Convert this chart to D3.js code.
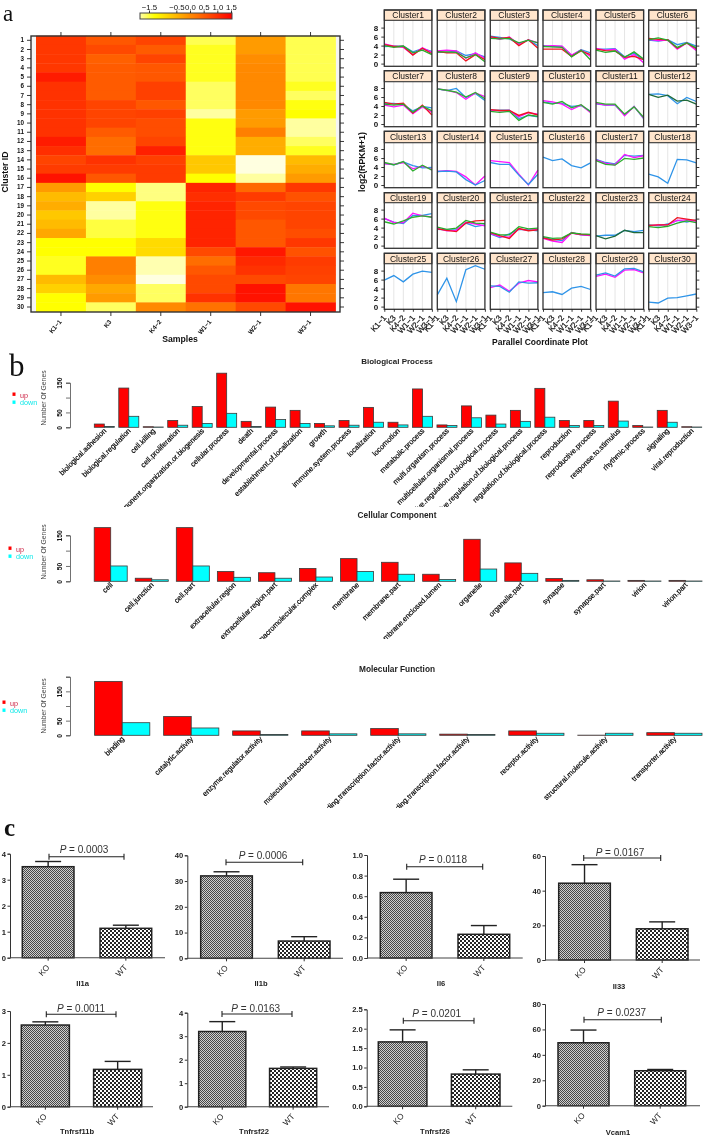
<!DOCTYPE html>
<html><head><meta charset="utf-8">
<script src="https://cdn.jsdelivr.net/npm/d3@7"></script>
<style>
html,body{margin:0;padding:0;background:#fff;}
svg{display:block;filter:blur(0.35px);}
text{font-family:"Liberation Sans",Arial,sans-serif;fill:#111;}
</style></head><body><svg id="c" width="703" height="1136"></svg>
<script>
// ---------- DATA ----------
const samples = ["K1−1","K3","K4−2","W1−1","W2−1","W3−1"];
const clusterIds = d3.range(1,31);
const heatValues = [
[0.9,0.55,0.75,-1.55,-0.2,-1.55],[0.9,0.7,0.5,-1.4,-0.2,-1.55],[0.9,0.45,0.75,-1.4,-0.05,-1.55],
[0.9,0.5,0.55,-1.4,0,-1.55],[1.2,0.5,0.55,-1.4,0,-1.55],[0.95,0.5,0.8,-1.6,0,-1.4],
[0.95,0.5,0.8,-1.6,0,-1.6],[0.95,0.75,0.55,-1.6,0,-1.35],[0.95,0.75,0.8,-1.8,-0.2,-1.3],
[0.95,0.75,0.65,-1.35,-0.2,-1.8],[0.95,0.5,0.65,-1.35,0.1,-1.8],[1.2,0.3,0.75,-1.35,-0.4,-1.6],
[1.0,0.3,1.15,-1.35,-0.4,-1.4],[0.75,0.95,0.8,-0.7,-2,-0.55],[0.85,0.85,0.85,-0.7,-2,-0.4],
[1.3,0.55,0.85,-1.3,-1.8,-0.2],[-0.2,-1.3,-1.7,1.1,0.35,0.9],[-0.55,-0.8,-1.7,1.0,0.85,0.6],
[-0.4,-1.8,-1.35,1.1,0.7,0.75],[-0.7,-1.8,-1.35,1.1,0.7,0.75],[-0.55,-1.5,-1.35,1.1,0.55,0.75],
[-0.35,-1.5,-1.35,1.1,0.55,0.65],[-1.3,-1.3,-0.9,1.1,0.55,0.9],[-1.3,-1.3,-0.9,0.7,1.25,0.6],
[-1.4,0.1,-1.85,0.3,1.05,0.85],[-1.4,0.1,-1.85,0.55,0.95,0.8],[-0.55,-0.05,-2,0.7,0.7,0.75],
[-0.8,-0.35,-1.6,0.7,1.3,0.2],[-1.3,-0.2,-1.6,0.95,1.3,0.2],[-1.3,-1.6,0,0.25,0.7,1.3]];
const colorKeyTicks = [-1.5,-0.5,0,0.5,1,1.5];

const clusterLines = [
[[3.8,3.9,3.9,2.6,3.3,2.7],[4.4,3.9,3.6,2.0,3.5,2.5],[4.2,3.8,3.8,1.9,3.4,2.2],[4.0,3.6,3.9,2.4,3.0,2.0]],
[[2.5,2.5,2.8,1.8,2.2,1.5],[2.8,3.0,2.8,1.2,2.4,1.2],[2.7,2.4,2.4,0.6,2.0,0.9],[2.6,2.6,2.5,1.3,2.0,0.4]],
[[6.1,5.8,5.5,4.4,5.2,4.0],[5.9,5.4,5.9,4.3,5.3,4.6],[6.0,5.6,5.8,4.0,5.3,3.4],[5.6,5.5,5.6,4.6,5.2,4.6]],
[[4.0,3.8,3.8,1.8,3.1,2.4],[3.9,4.0,3.9,1.9,3.0,1.6],[3.2,3.2,3.2,1.6,2.8,2.0],[3.8,3.7,3.6,1.5,3.0,0.8]],
[[3.2,3.2,3.3,1.5,2.3,0.8],[3.4,3.0,3.2,1.0,2.0,0.2],[3.2,2.9,2.8,1.4,1.6,0.9],[3.0,2.5,2.8,1.4,2.6,1.0]],
[[5.2,5.0,5.3,4.2,4.7,3.9],[5.4,5.1,5.2,3.2,4.6,2.9],[5.6,5.4,5.3,3.4,4.6,3.3],[5.3,5.7,5.2,3.6,4.6,3.5]],
[[4.6,4.6,4.3,2.9,3.9,3.6],[4.2,3.8,4.2,2.3,3.8,2.6],[4.8,4.4,4.6,2.4,4.2,2.0],[4.4,4.2,4.4,2.6,4.0,2.9]],
[[7.8,7.4,7.9,5.9,6.8,5.2],[7.8,7.5,7.0,5.5,6.9,6.1],[7.8,7.5,7.1,6.0,7.0,5.6]],
[[3.0,3.1,3.1,1.2,1.9,1.6],[3.1,2.9,3.0,1.6,2.5,2.2],[3.2,3.0,3.0,1.9,2.6,2.0],[2.8,2.6,2.8,0.8,2.0,1.7]],
[[4.9,4.6,4.6,3.9,4.1,2.8],[5.2,4.9,4.4,3.2,4.2,2.5],[4.8,4.4,5.0,3.6,4.3,2.7]],
[[4.5,4.2,4.2,2.0,3.9,1.2],[4.6,4.2,4.3,1.8,3.9,1.3],[4.8,4.4,4.4,2.2,3.8,1.5]],
[[6.6,6.7,6.3,4.5,5.9,5.0],[6.6,5.9,6.4,5.1,5.3,4.4]],
[[4.8,4.5,5.1,4.3,3.8,3.9],[4.7,4.6,5.0,3.6,4.2,3.5],[5.0,4.5,5.2,3.1,4.4,3.3]],
[[3.0,3.2,3.0,1.8,0,2.0],[3.0,3.1,2.9,1.2,0,1.0]],
[[5.4,5.2,5.0,2.4,0,3.3],[5.0,4.6,4.6,2.2,0.1,2.4]],
[[6.2,5.4,5.8,4.3,3.8,4.9]],
[[5.7,5.0,4.7,6.6,6.4,6.6],[5.6,4.8,4.5,6.8,6.1,6.5],[5.4,4.6,4.4,5.9,5.7,6.0]],
[[2.4,1.8,0.4,5.7,5.6,4.9]],
[[6.0,5.2,4.9,6.7,6.7,7.1],[6.1,5.1,5.1,7.2,6.6,6.4],[5.3,4.8,5.5,6.3,6.6,6.3]],
[[3.6,3.5,3.5,5.0,4.2,4.6],[3.9,3.3,3.4,5.2,4.8,4.4],[3.7,3.4,3.1,5.0,5.5,5.6],[4.1,3.6,3.9,5.6,5.0,4.9]],
[[2.6,1.8,2.6,3.6,3.5,3.3],[2.7,2.0,1.9,3.7,3.4,3.6],[2.9,2.2,1.6,3.8,3.3,3.5],[3.0,2.4,2.4,4.2,3.7,3.9]],
[[1.8,1.4,1.1,2.9,2.4,2.2],[1.6,1.0,0.7,2.8,2.4,2.3],[1.7,1.2,1.5,2.8,2.5,2.4],[2.0,1.6,1.7,2.8,2.6,2.5]],
[[2.1,2.3,2.3,3.4,3.1,3.4],[2.2,1.5,2.1,3.4,2.9,2.9]],
[[4.6,4.4,4.8,5.6,5.2,5.7],[4.4,4.6,4.6,5.6,5.7,5.4],[4.5,4.6,4.6,6.2,5.9,5.6],[4.2,4.0,4.3,5.0,5.5,5.1]],
[[5.9,6.9,5.5,7.2,7.9,7.6]],
[[2.6,6.3,1.1,8.2,9.1,8.3]],
[[4.2,4.8,3.4,5.2,5.8,5.5],[4.6,4.5,3.2,5.5,5.2,5.3]],
[[3.1,3.3,2.7,4.1,4.5,3.8]],
[[6.7,7.2,6.5,8.1,8.2,7.5],[7.0,7.5,6.8,8.4,8.5,7.7]],
[[1.0,0.8,1.9,2.0,2.4,2.8]]];
const clusterYTicks = [0,2,4,6,8];

const bpCategories = ["biological.adhesion","biological.regulation","cell.killing","cell.proliferation","cellular.component.organization.or.biogenesis","cellular.process","death","developmental.process","establishment.of.localization","growth","immune.system.process","localization","locomotion","metabolic.process","multi.organism.process","multicellular.organismal.process","negative.regulation.of.biological.process","positive.regulation.of.biological.process","regulation.of.biological.process","reproduction","reproductive.process","response.to.stimulus","rhythmic.process","signaling","viral.reproduction"];
const bpUp   = [11,132,2,23,70,182,20,68,57,13,23,67,17,129,8,72,41,57,131,23,23,88,6,57,2];
const bpDown = [3,37,1,7,13,47,3,26,13,5,7,17,8,37,6,32,11,20,34,6,6,21,1,17,1];
const ccCategories = ["cell","cell.junction","cell.part","extracellular.region","extracellular.region.part","macromolecular.complex","membrane","membrane.part","membrane.enclosed.lumen","organelle","organelle.part","synapse","synapse.part","virion","virion.part"];
const ccUp   = [175,10,175,32,28,42,74,62,23,137,60,9,5,3,3];
const ccDown = [50,5,50,13,10,14,32,23,6,40,26,3,1,1,1];
const mfCategories = ["binding","catalytic.activity","enzyme.regulator.activity","molecular.transducer.activity","nucleic.acid.binding.transcription.factor.activity","protein.binding.transcription.factor.activity","receptor.activity","structural.molecule.activity","transporter.activity"];
const mfUp   = [184,64,15,15,23,4,15,0.5,9];
const mfDown = [43,25,3,5,5,3,7,7,7];

const genes    = ["Il1a","Il1b","Il6","Il33","Tnfrsf11b","Tnfrsf22","Tnfrsf26","Vcam1"];
const pValues  = ["0.0003","0.0006","0.0118","0.0167","0.0011","0.0163","0.0201","0.0237"];
const koMeans  = [3.5,32,0.635,44.3,2.56,3.2,1.66,49.5];
const koTops   = [3.7,33.6,0.765,55,2.66,3.62,1.97,59.5];
const wtMeans  = [1.13,6.7,0.23,18,1.17,1.63,0.83,27.5];
const wtTops   = [1.25,8.4,0.315,22,1.42,1.69,0.94,28.5];
const yMaxes   = [4,40,1,60,3,4,2.5,80];
const yTickSets= [[0,1,2,3,4],[0,10,20,30,40],[0,0.2,0.4,0.6,0.8,1],[0,20,40,60],[0,1,2,3],[0,1,2,3,4],[0,0.5,1,1.5,2,2.5],[0,20,40,60,80]];
const yFormats = ["d","d",".1f","d","d","d",".1f","d"];

// ---------- LAYOUT ----------
const svg = d3.select("#c");
const defs = svg.append("defs");
const FONT="Liberation Sans";

function letter(t,x,y,size,bold){svg.append("text").attr("x",x).attr("y",y).attr("font-size",size)
  .style("font-family","Liberation Serif").attr("font-weight",bold?"bold":"normal").text(t);}
letter("a",3,21,23,false); letter("b",9,376,31,false); letter("c",4,836,25,true);

// ---------- Panel a: heat map ----------
const heatColor = d3.scaleLinear().domain([-2,-1.3,1.5]).range(["#ffffe0","#ffff00","#ff0000"]).clamp(true);
const hx = d3.scaleBand().domain(samples).range([36,335.5]);
const hy = d3.scaleBand().domain(clusterIds).range([35.7,311.6]);
const hm = svg.append("g");
hm.append("rect").attr("x",31).attr("y",36).attr("width",309).attr("height",276).attr("fill","#f4f4f4");
heatValues.forEach((row,i)=>{
  hm.selectAll(null).data(row).join("rect")
   .attr("x",(d,j)=>hx(samples[j])).attr("y",hy(clusterIds[i]))
   .attr("width",hx.bandwidth()+0.4).attr("height",hy.bandwidth()+0.4)
   .attr("fill",d=>heatColor(d));
});
hm.append("rect").attr("x",31).attr("y",36).attr("width",309).attr("height",276)
  .attr("fill","none").attr("stroke","#333").attr("stroke-width",1.4);
function styleAxis(g,size,weight){
  g.select(".domain").remove();
  g.selectAll("line").attr("stroke","#222").attr("stroke-width",0.9);
  g.selectAll("text").attr("font-size",size).attr("font-weight",weight||"normal").style("font-family",FONT).attr("fill","#111");
}
const hxBottom = hm.append("g").attr("transform","translate(0,312)").call(d3.axisBottom(hx).tickSize(4));
styleAxis(hxBottom,6.3,"bold");
hxBottom.selectAll("text").attr("text-anchor","end").attr("dx",0).attr("dy",0)
  .attr("transform","translate(1,10) rotate(-50)").attr("y",0).attr("x",0);
const hxTop = hm.append("g").attr("transform","translate(0,36)").call(d3.axisTop(hx).tickSize(4).tickFormat(""));
styleAxis(hxTop,6);
const hyLeft = hm.append("g").attr("transform","translate(31,0)").call(d3.axisLeft(hy).tickSize(4).tickPadding(3));
styleAxis(hyLeft,6.3,"bold");
const hyRight = hm.append("g").attr("transform","translate(340,0)").call(d3.axisRight(hy).tickSize(4).tickFormat(""));
styleAxis(hyRight,6);
svg.append("text").attr("transform","translate(8,172) rotate(-90)").attr("text-anchor","middle").attr("font-size",8.7).attr("font-weight","bold").text("Cluster ID");
svg.append("text").attr("x",180).attr("y",342).attr("text-anchor","middle").attr("font-size",8.7).attr("font-weight","bold").text("Samples");

// colour key
const keyScale = d3.scaleLinear().domain([-1.5,1.5]).range([149,231]);
const grad = defs.append("linearGradient").attr("id","keyGrad");
const keyLo = keyScale.invert(140), keyHi = keyScale.invert(232);
[keyLo,-1.3,keyHi].forEach(v=>grad.append("stop").attr("offset",(v-keyLo)/(keyHi-keyLo)).attr("stop-color",heatColor(v)));
svg.append("rect").attr("x",140).attr("y",13).attr("width",92).attr("height",6).attr("fill","url(#keyGrad)").attr("stroke","#444").attr("stroke-width",1);
const keyAxis = svg.append("g").attr("transform","translate(0,13)").call(d3.axisTop(keyScale).tickValues(colorKeyTicks).tickSize(2.5).tickPadding(1).tickFormat(d=>(d<0?"−":"")+Math.abs(d).toFixed(1)));
styleAxis(keyAxis,7.8);

// ---------- Panel a: parallel coordinates ----------
const colX = [384.3,437.3,490.3,543,596,648.7];
const panelW = 47.6;
const rowTop = [10,70.7,131.3,192.7,253.3];
const stripH = [10.3,11,11.4,10,10.4];
const rowBottom = [66.3,126.7,187.7,248.3,309.3];
const lineColors = {1:["#2f94e8"],2:["#ff10ff","#2f94e8"],3:["#2f94e8","#ff10ff","#2fb030"],4:["#2f94e8","#ff10ff","#ee1522","#28ac2c"]};
const altLines = {"11":["#2f94e8","#1f6a3a"],"22":["#2f94e8","#1f6a3a"]};
clusterLines.forEach((lines,i)=>{
  const r=Math.floor(i/6), c=i%6, X=colX[c], B=rowBottom[r], T=rowTop[r], SB=T+stripH[r];
  const x=d3.scalePoint().domain(samples).range([X,X+panelW]);
  const y=d3.scaleLinear().domain([0,8]).range([B-2.7,B-38.7]);
  const g=svg.append("g");
  g.append("rect").attr("x",X).attr("y",SB).attr("width",panelW).attr("height",B-SB).attr("fill","#fff");
  g.selectAll(null).data(samples.slice(1,5)).join("line")
    .attr("x1",d=>x(d)).attr("x2",d=>x(d)).attr("y1",SB).attr("y2",B).attr("stroke","#e2e2e2").attr("stroke-width",0.9);
  const lg=d3.line().x((d,k)=>x(samples[k])).y(d=>y(d));
  const cols=altLines[i]||lineColors[lines.length];
  g.selectAll(null).data(lines).join("path").attr("d",lg).attr("fill","none")
    .attr("stroke",(d,k)=>cols[k]).attr("stroke-width",1.3);
  g.append("rect").attr("x",X).attr("y",T).attr("width",panelW).attr("height",stripH[r]).attr("fill","#ffe5cc").attr("stroke","#333").attr("stroke-width",1.1);
  g.append("rect").attr("x",X).attr("y",T).attr("width",panelW).attr("height",B-T).attr("fill","none").attr("stroke","#333").attr("stroke-width",1.3);
  g.append("text").attr("x",X+panelW/2).attr("y",T+stripH[r]/2+3.1).attr("text-anchor","middle").attr("font-size",8.5).attr("fill","#222").text("Cluster"+clusterIds[i]);
  if(c===0){
    const a=g.append("g").attr("transform",`translate(${X},0)`).call(d3.axisLeft(y).tickValues(clusterYTicks).tickSize(3).tickPadding(3).tickFormat(d3.format("d")));
    styleAxis(a,8,"bold");
  }
  if(c===5){
    const a=g.append("g").attr("transform",`translate(${X+panelW},0)`).call(d3.axisRight(y).tickValues(clusterYTicks).tickSize(3).tickFormat(""));
    styleAxis(a,8);
  }
  if(r===4){
    const a=g.append("g").attr("transform",`translate(0,${B})`).call(d3.axisBottom(x).tickSize(2.5));
    styleAxis(a,8,"normal");
    a.selectAll("text").attr("text-anchor","end").attr("x",0).attr("y",0).attr("dy",0).attr("transform","translate(2,9) rotate(-48)").attr("stroke","#111").attr("stroke-width",0.2);
  }
});
svg.append("text").attr("transform","translate(365,162) rotate(-90)").attr("text-anchor","middle").attr("font-size",8.8).attr("font-weight","bold").text("log2(RPKM+1)");
svg.append("text").attr("x",540).attr("y",345).attr("text-anchor","middle").attr("font-size",8.5).attr("font-weight","bold").text("Parallel Coordinate Plot");

// ---------- Panel b ----------
function goPanel(id,cats,up,down,o){
  const g=svg.append("g");
  const x=d3.scaleBand().domain(cats).range([o.x0,o.x1]).paddingInner(o.pad);
  const sub=d3.scaleBand().domain(["up","down"]).range([0,x.bandwidth()]);
  const y=d3.scaleLinear().domain([0,o.max]).range([o.y0,o.yMaxPx]);
  const draw=(vals,key,col)=>g.selectAll(null).data(vals).join("rect")
    .attr("x",(d,i)=>x(cats[i])+sub(key)).attr("width",sub.bandwidth())
    .attr("y",d=>y(d)).attr("height",d=>y(0)-y(d))
    .attr("fill",col).attr("stroke","#3a3a3a").attr("stroke-width",0.8);
  draw(up,"up","#ff0000"); draw(down,"down","#00ffff");
  const a=g.append("g").attr("transform",`translate(70,0)`).call(d3.axisLeft(y).tickValues(o.ticks).tickSize(4).tickPadding(3).tickFormat(d=>o.labels.includes(d)?d:""));
  a.select(".domain").attr("stroke","#333").attr("stroke-width",0.7);
  a.selectAll("line").attr("stroke","#333").attr("stroke-width",0.7);
  a.selectAll("text").attr("font-size",6.8).attr("font-weight","bold").style("font-family",FONT)
    .attr("text-anchor","middle").attr("x",0).attr("dy",0).attr("transform",d=>`translate(-8,${0}) rotate(-90)`);
  g.append("text").attr("transform",`translate(46,${o.nogY}) rotate(-90)`).attr("text-anchor","middle").attr("font-size",6.8).style("fill","#444").text("Number Of Genes");
  g.append("text").attr("x",397).attr("y",o.titleY).attr("text-anchor","middle").attr("font-size",o.tfs).attr("font-weight","bold").style("fill","#222").text(o.title);
  // legend
  g.append("rect").attr("x",o.lx-1.5).attr("y",o.ly-1.5).attr("width",3).attr("height",3.4).attr("fill","#ff0000");
  g.append("rect").attr("x",o.lx-1.5).attr("y",o.ly+6.5).attr("width",3).attr("height",3.4).attr("fill","#00ffff");
  g.append("text").attr("x",o.lx+6).attr("y",o.ly+3.5).attr("font-size",7.2).style("fill","#cc2244").text("up");
  g.append("text").attr("x",o.lx+6).attr("y",o.ly+11).attr("font-size",7.2).style("fill","#10e8e8").text("down");
  // labels clipped as in the source figure
  defs.append("clipPath").attr("id",id).append("rect").attr("x",0).attr("y",o.y0).attr("width",703).attr("height",o.clipY-o.y0);
  const lab=g.append("g").attr("clip-path",`url(#${id})`);
  lab.selectAll(null).data(cats).join("text")
    .attr("text-anchor","end").attr("font-size",o.fs||7.4).style("fill","#000").attr("stroke","#000").attr("stroke-width",0.18)
    .attr("transform",d=>`translate(${x(d)+x.bandwidth()/2+2.5},${o.y0+4}) rotate(-45)`).text(d=>d);
}
goPanel("clipBP",bpCategories,bpUp,bpDown,{x0:94.3,x1:701.7,pad:0.183,y0:427.3,yMaxPx:382.7,max:150,ticks:[0,50,100,150],labels:[0,50,150],nogY:398,titleY:364,tfs:8,title:"Biological Process",lx:14,ly:394,clipY:507});
goPanel("clipCC",ccCategories,ccUp,ccDown,{x0:94.2,x1:702,pad:0.196,y0:581.3,yMaxPx:535.3,max:150,ticks:[0,50,100,150],labels:[0,50,150],nogY:552,titleY:518,tfs:8.3,title:"Cellular Component",lx:10,ly:548,clipY:639});
goPanel("clipMF",mfCategories,mfUp,mfDown,{x0:94.6,x1:702,pad:0.2,y0:735.3,yMaxPx:676.7,max:200,ticks:[0,50,100,150,200],labels:[0,50,150],nogY:706,titleY:672,tfs:8.3,title:"Molecular Function",lx:4,ly:702,clipY:808});

// ---------- Panel c ----------
const koPat=defs.append("pattern").attr("id","koFill").attr("width",2).attr("height",2).attr("patternUnits","userSpaceOnUse");
koPat.append("rect").attr("width",2).attr("height",2).attr("fill","#cfcfcf");
koPat.append("rect").attr("width",1).attr("height",1).attr("fill","#484848");
koPat.append("rect").attr("x",1).attr("y",1).attr("width",1).attr("height",1).attr("fill","#484848");
const wtPat=defs.append("pattern").attr("id","wtFill").attr("width",4).attr("height",4).attr("patternUnits","userSpaceOnUse");
wtPat.append("rect").attr("width",4).attr("height",4).attr("fill","#ffffff");
wtPat.append("rect").attr("width",2).attr("height",2).attr("fill","#262626");
wtPat.append("rect").attr("x",2).attr("y",2).attr("width",2).attr("height",2).attr("fill","#262626");

const barLayout=[
 {ax:10,end:165,top:853.7,zero:957.7,l:22.3,r:151.7,sigY:856.7,s0:49,s1:124,pX:84,pY:853,nX:82.7,nY:986},
 {ax:187.3,end:343,top:855.3,zero:958.3,l:200.7,r:330,sigY:862.3,s0:226,s1:302.7,pX:263,pY:859,nX:261,nY:986},
 {ax:367,end:522.7,top:855,zero:958,l:380.3,r:509.7,sigY:866.7,s0:406.7,s1:482.7,pX:443,pY:863,nX:441,nY:986},
 {ax:545,end:700,top:856,zero:960,l:558.7,r:688,sigY:858,s0:583.7,s1:660.7,pX:620,pY:855.5,nX:619,nY:989},
 {ax:10,end:153,top:1011,zero:1106.7,l:21.3,r:141.7,sigY:1014.3,s0:46.3,s1:116,pX:81,pY:1011.5,nX:77,nY:1134},
 {ax:187.3,end:329,top:1012.7,zero:1106.7,l:198.7,r:316.7,sigY:1014,s0:222,s1:292,pX:255.7,pY:1011.5,nX:254,nY:1134},
 {ax:366.7,end:512.3,top:1009.3,zero:1106.3,l:378.3,r:500,sigY:1020.7,s0:403.3,s1:474,pX:436.7,pY:1017,nX:435,nY:1134},
 {ax:545,end:700,top:1004,zero:1105.7,l:558,r:685.7,sigY:1019.7,s0:584,s1:661.3,pX:621.7,pY:1016,nX:618,nY:1135}];
genes.forEach((gene,i)=>{
  const L=barLayout[i], g=svg.append("g");
  const x=d3.scaleBand().domain(["KO","WT"]).range([L.l,L.r]).paddingInner(0.335);
  const y=d3.scaleLinear().domain([0,yMaxes[i]]).range([L.zero,L.top]);
  const rows=[["KO",koMeans[i],koTops[i],"url(#koFill)"],["WT",wtMeans[i],wtTops[i],"url(#wtFill)"]];
  rows.forEach(([k,m,t,f])=>{
    const cx=x(k)+x.bandwidth()/2;
    g.append("line").attr("x1",cx).attr("x2",cx).attr("y1",y(m)).attr("y2",y(t)).attr("stroke","#222").attr("stroke-width",1.4);
    g.append("line").attr("x1",cx-13).attr("x2",cx+13).attr("y1",y(t)).attr("y2",y(t)).attr("stroke","#222").attr("stroke-width",1.4);
    g.append("rect").attr("x",x(k)).attr("width",x.bandwidth()).attr("y",y(m)).attr("height",y(0)-y(m))
      .attr("fill",f).attr("stroke","#222").attr("stroke-width",1.5);
  });
  const ya=g.append("g").attr("transform",`translate(${L.ax},0)`).call(d3.axisLeft(y).tickValues(yTickSets[i]).tickSize(2.5).tickPadding(1.5).tickFormat(d3.format(yFormats[i])));
  ya.select(".domain").attr("stroke","#333").attr("stroke-width",1);
  ya.selectAll("line").attr("stroke","#333").attr("stroke-width",1);
  ya.selectAll("text").attr("font-size",7.6).attr("font-weight","bold").style("font-family",FONT).style("fill","#222");
  g.append("line").attr("x1",L.ax).attr("x2",L.end).attr("y1",L.zero).attr("y2",L.zero).attr("stroke","#444").attr("stroke-width",1.1);
  const xa=g.append("g").attr("transform",`translate(0,${L.zero})`).call(d3.axisBottom(x).tickSize(3));
  xa.select(".domain").remove();
  xa.selectAll("line").attr("stroke","#333").attr("stroke-width",1);
  xa.selectAll("text").attr("font-size",8.2).style("font-family",FONT).style("fill","#222")
    .attr("text-anchor","end").attr("x",0).attr("y",0).attr("dy",0).attr("transform","translate(2,10) rotate(-48)");
  // significance bracket
  g.append("path").attr("d",`M${L.s0},${L.sigY-3}V${L.sigY+3}M${L.s0},${L.sigY}H${L.s1}M${L.s1},${L.sigY-3}V${L.sigY+3}`)
    .attr("fill","none").attr("stroke","#222").attr("stroke-width",1.1);
  const t=g.append("text").attr("x",L.pX).attr("y",L.pY).attr("text-anchor","middle").attr("font-size",10).style("fill","#333");
  t.append("tspan").attr("font-style","italic").text("P");
  t.append("tspan").text(" = "+pValues[i]);
  g.append("text").attr("x",L.nX).attr("y",L.nY).attr("text-anchor","middle").attr("font-size",7.6).attr("font-weight","bold").style("fill","#222").text(gene);
});
</script></body></html>
